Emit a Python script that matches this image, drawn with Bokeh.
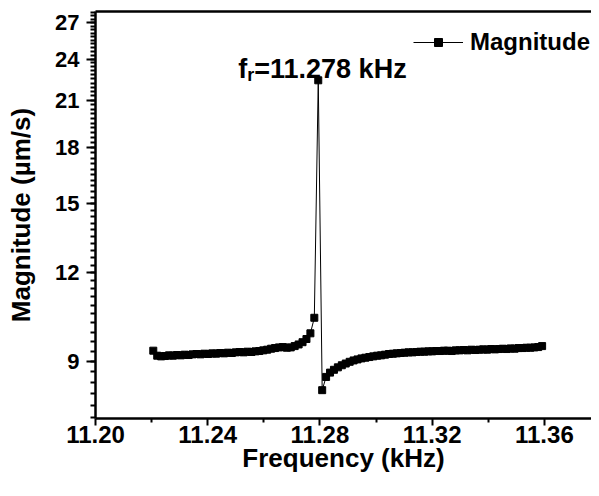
from bokeh.plotting import figure
from bokeh.models import (Range1d, FixedTicker, PrintfTickFormatter, LinearAxis,
                          Label, Legend, LegendItem)
from bokeh.embed import file_html
from bokeh.resources import INLINE

freq_khz = [
    11.2206, 11.2220, 11.2234, 11.2248, 11.2262, 11.2276, 11.2290, 11.2304, 11.2318, 11.2332,
    11.2346, 11.2360, 11.2374, 11.2388, 11.2402, 11.2416, 11.2430, 11.2444, 11.2458, 11.2472,
    11.2486, 11.2500, 11.2514, 11.2528, 11.2542, 11.2556, 11.2570, 11.2584, 11.2598, 11.2612,
    11.2626, 11.2640, 11.2654, 11.2668, 11.2682, 11.2696, 11.2710, 11.2724, 11.2738, 11.2752,
    11.2766, 11.2780, 11.2794, 11.2808, 11.2822, 11.2836, 11.2850, 11.2864, 11.2878, 11.2892,
    11.2906, 11.2920, 11.2934, 11.2948, 11.2962, 11.2976, 11.2990, 11.3004, 11.3018, 11.3032,
    11.3046, 11.3060, 11.3074, 11.3088, 11.3102, 11.3116, 11.3130, 11.3144, 11.3158, 11.3172,
    11.3186, 11.3200, 11.3214, 11.3228, 11.3242, 11.3256, 11.3270, 11.3284, 11.3298, 11.3312,
    11.3326, 11.3340, 11.3354, 11.3368, 11.3382, 11.3396, 11.3410, 11.3424, 11.3438, 11.3452,
    11.3466, 11.3480, 11.3494, 11.3508, 11.3522, 11.3536, 11.3550, 11.3564, 11.3578, 11.3592,
]
magnitude = [
    9.32, 9.17, 9.15, 9.16, 9.18, 9.17, 9.19, 9.18, 9.20, 9.19,
    9.21, 9.22, 9.21, 9.23, 9.22, 9.24, 9.23, 9.25, 9.24, 9.26,
    9.25, 9.27, 9.28, 9.27, 9.29, 9.28, 9.30, 9.31, 9.33, 9.35,
    9.38, 9.40, 9.42, 9.43, 9.41, 9.42, 9.46, 9.51, 9.58, 9.68,
    9.86, 10.37, 22.4, 8.20, 8.56, 8.68, 8.76, 8.83, 8.89, 8.94,
    8.99, 9.03, 9.06, 9.09, 9.11, 9.13, 9.15, 9.17, 9.18, 9.20,
    9.22, 9.23, 9.24, 9.25, 9.26, 9.27, 9.27, 9.28, 9.29, 9.29,
    9.30, 9.30, 9.31, 9.31, 9.32, 9.32, 9.31, 9.33, 9.33, 9.34,
    9.33, 9.35, 9.34, 9.35, 9.36, 9.35, 9.37, 9.36, 9.37, 9.38,
    9.37, 9.39, 9.38, 9.40, 9.40, 9.41, 9.41, 9.42, 9.43, 9.46,
]
x_ticks = [11.20, 11.24, 11.28, 11.32, 11.36]
x_minor = [11.22, 11.26, 11.30, 11.34]
y_ticks = [9, 12, 15, 18, 21, 24, 27]
x_title = "Frequency (kHz)"
y_title = "Magnitude (µm/s)"
peak_label = ["f", "r", "=11.278 kHz"]
series_name = "Magnitude"

FONT = "Liberation Sans"

p = figure(width=591, height=480, output_backend="svg", toolbar_location=None,
           y_axis_type="log",
           x_range=Range1d(11.20, 11.3768), y_range=Range1d(7.48, 28.0),
           min_border_left=95, min_border_right=0, min_border_top=11, min_border_bottom=62)
p.outline_line_color = None
p.grid.visible = False
p.background_fill_color = "white"

r_line = p.line(freq_khz, magnitude, line_color="black", line_width=1)
r_pts = p.scatter(freq_khz, magnitude, marker="square", size=7,
                  fill_color="black", line_color="black")

# axes
xa = p.xaxis[0]
xa.ticker = FixedTicker(ticks=x_ticks, minor_ticks=x_minor)
xa.formatter = PrintfTickFormatter(format="%.2f")
xa.axis_label = x_title

ya = p.yaxis[0]
y_minor = [round(7.5 + 0.3 * k, 2) for k in range(70) if 7.5 + 0.3 * k < 28]
ya.ticker = FixedTicker(ticks=y_ticks, minor_ticks=y_minor)
ya.formatter = PrintfTickFormatter(format="%d")
ya.axis_label = y_title

for ax in (xa, ya):
    ax.axis_line_width = 2.5
    ax.axis_line_color = "black"
    ax.major_tick_line_width = 2
    ax.minor_tick_line_width = 2
    ax.major_tick_in = 0
    ax.minor_tick_in = 0
    ax.major_label_text_font = FONT
    ax.major_label_text_font_style = "bold"
    ax.major_label_text_color = "black"
    ax.axis_label_text_font = FONT
    ax.axis_label_text_font_style = "bold"
    ax.axis_label_text_font_size = "26px"
    ax.axis_label_text_color = "black"

xa.major_label_text_font_size = "24px"
ya.major_label_text_font_size = "22px"
xa.major_label_standoff = 0
xa.axis_label_standoff = -3
ya.major_label_standoff = 7
ya.axis_label_standoff = 16

xa.major_tick_out = 7
xa.minor_tick_out = 4
ya.major_tick_out = 9
ya.minor_tick_out = 5

top = LinearAxis(ticker=FixedTicker(ticks=[]), axis_line_width=2.5,
                 major_tick_out=0, minor_tick_out=0, major_label_text_font_size="0px",
                 major_label_standoff=0)
p.add_layout(top, "above")

# peak annotation
i_pk = magnitude.index(max(magnitude))
fx, fy = freq_khz[i_pk], magnitude[i_pk]
common = dict(x=fx, y=fy, text_font=FONT, text_font_style="bold", text_color="black",
              text_baseline="alphabetic")
p.add_layout(Label(text=peak_label[0], x_offset=-80, y_offset=11, text_font_size="27px", **common))
p.add_layout(Label(text=peak_label[1], x_offset=-71, y_offset=5, text_font_size="18px", **common))
p.add_layout(Label(text=peak_label[2], x_offset=-64, y_offset=11, text_font_size="27px", **common))

legend = Legend(items=[LegendItem(label=series_name, renderers=[r_line, r_pts])],
                location="top_right", border_line_color=None, background_fill_alpha=0,
                label_text_font=FONT, label_text_font_style="bold", label_text_font_size="24px",
                label_text_color="black", label_height=60,
                glyph_width=50, margin=1, padding=1, spacing=0, label_standoff=7)
p.add_layout(legend)

open("out.html", "w").write(file_html(p, INLINE))
